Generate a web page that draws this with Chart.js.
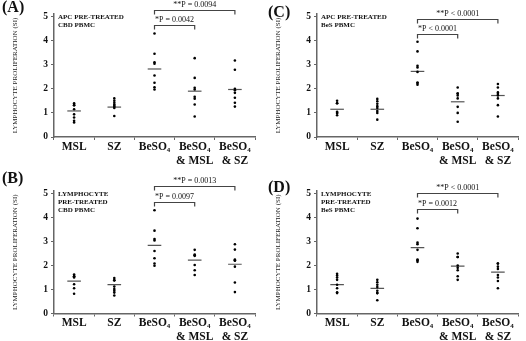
<!DOCTYPE html>
<html>
<head>
<meta charset="utf-8">
<script src="https://cdn.jsdelivr.net/npm/chart.js@4.4.0/dist/chart.umd.min.js"></script>
<style>
  html, body { margin: 0; padding: 0; background: #fff; }
  #wrap { position: relative; width: 526px; height: 341px; }
  canvas { position: absolute; }
</style>
</head>
<body>
<div id="wrap">
  <canvas id="panelA" width="263" height="170" style="left:0;top:0"></canvas>
  <canvas id="panelC" width="263" height="170" style="left:263px;top:0"></canvas>
  <canvas id="panelB" width="263" height="171" style="left:0;top:170px"></canvas>
  <canvas id="panelD" width="263" height="171" style="left:263px;top:170px"></canvas>
</div>
<script>
/* ═══════════════════════════════════════════════
   DATA (stimulation index per donor)
═══════════════════════════════════════════════ */
const categories = ['MSL', 'SZ', 'BeSO₄', 'BeSO₄ & MSL', 'BeSO₄ & SZ'];
const yTicks = [0, 1, 2, 3, 4, 5];
const yTitle = 'LYMPHOCYTE PROLIFERATION (SI)';

// (A) APC pre-treated, CBD PBMC
const siA = [
  [1.4, 1.32, 1.32, 1.15, 0.94, 0.81, 0.67, 0.6],
  [1.6, 1.5, 1.42, 1.35, 1.3, 1.25, 1.2, 0.87],
  [4.29, 3.45, 3.1, 3.04, 2.55, 2.25, 2.06, 1.97],
  [3.27, 2.45, 2.04, 1.97, 1.67, 1.59, 1.35, 0.85],
  [3.17, 2.79, 2.0, 1.94, 1.83, 1.63, 1.42, 1.26]
];
const medA = [1.08, 1.24, 2.82, 1.9, 1.97];
const noteA = ['APC PRE-TREATED', 'CBD PBMC'];
const pTextA = ['*P = 0.0042', '**P = 0.0094'];
const pLevelA = [4.66, 5.27];

// (C) APC pre-treated, BeS PBMC
const siC = [
  [1.5, 1.4, 1.4, 1.05, 1.0, 1.0, 0.9],
  [1.58, 1.48, 1.38, 1.28, 1.2, 1.08, 1.0, 0.72],
  [3.95, 3.55, 2.95, 2.88, 2.7, 2.25, 2.25, 2.17],
  [2.05, 1.8, 1.8, 1.72, 1.6, 1.25, 1.0, 0.63],
  [2.2, 2.05, 1.85, 1.78, 1.72, 1.6, 1.32, 0.85]
];
const medC = [1.15, 1.15, 2.72, 1.46, 1.72];
const noteC = ['APC PRE-TREATED', 'BeS PBMC'];
const pTextC = ['*P < 0.0001', '**P < 0.0001'];
const pLevelC = [4.29, 4.9];

// (B) lymphocyte pre-treated, CBD PBMC
const siB = [
  [1.62, 1.55, 1.55, 1.5, 1.22, 1.05, 0.82],
  [1.48, 1.38, 1.38, 1.12, 1.02, 0.95, 0.87, 0.75],
  [4.3, 3.45, 3.1, 3.04, 2.6, 2.3, 2.08, 1.99],
  [2.65, 2.45, 2.42, 2.4, 2.02, 1.8, 1.6],
  [2.88, 2.66, 2.25, 2.22, 2.2, 1.95, 1.29, 0.89]
];
const medB = [1.35, 1.2, 2.84, 2.22, 2.05];
const noteB = ['LYMPHOCYTE', 'PRE-TREATED', 'CBD PBMC'];
const pTextB = ['*P = 0.0097', '**P = 0.0013'];
const pLevelB = [4.66, 5.31];

// (D) lymphocyte pre-treated, BeS PBMC
const siD = [
  [1.65, 1.58, 1.5, 1.4, 1.2, 1.05, 0.88, 0.85],
  [1.4, 1.3, 1.2, 1.1, 0.95, 0.85, 0.85, 0.55],
  [3.95, 3.55, 2.95, 2.88, 2.65, 2.25, 2.22, 2.15],
  [2.5, 2.35, 2.35, 2.0, 1.9, 1.8, 1.55, 1.4],
  [2.08, 2.08, 1.95, 1.85, 1.6, 1.5, 1.35, 1.05]
];
const medD = [1.2, 1.05, 2.74, 1.97, 1.72];
const noteD = ['LYMPHOCYTE', 'PRE-TREATED', 'BeS PBMC'];
const pTextD = ['*P = 0.0012', '**P < 0.0001'];
const pLevelD = [4.36, 5.02];

/* ═══════════════════════════════════════════════
   DRAWING
═══════════════════════════════════════════════ */
const SERIF = "'Liberation Serif', 'DejaVu Serif', serif";
Chart.defaults.font.family = SERIF;
Chart.defaults.color = '#111';

// panel letter, inset note and the P-value brackets
const decor = {
  id: 'decor',
  afterDraw(chart, args, o) {
    const { ctx, scales: { x, y } } = chart;
    ctx.save();
    ctx.fillStyle = '#111';
    ctx.textBaseline = 'middle';
    ctx.textAlign = 'left';
    ctx.font = 'bold 16px ' + SERIF;
    ctx.fillText(o.letter, o.letterX, o.letterY);

    ctx.font = 'bold 7px ' + SERIF;
    o.note.forEach((t, i) => ctx.fillText(t, x.left + 4, y.top + 3 + i * 8));

    ctx.strokeStyle = '#444';
    ctx.lineWidth = 1.2;
    ctx.font = '8px ' + SERIF;
    ctx.textAlign = 'center';
    const from = categories.indexOf('BeSO₄');
    [3, 4].forEach((to, i) => {
      const x0 = x.getPixelForValue(from);
      const x1 = x.getPixelForValue(to);
      const yy = Math.round(y.getPixelForValue(o.pLevel[i])) + 0.5;
      ctx.beginPath();
      ctx.moveTo(x0, yy + 4);
      ctx.lineTo(x0, yy);
      ctx.lineTo(x1, yy);
      ctx.lineTo(x1, yy + 4);
      ctx.stroke();
      ctx.fillText(o.pText[i], (x0 + x1) / 2, yy - 6);
    });
    ctx.restore();
  }
};

function makePanel(id, si, med, note, pText, pLevel, letter, lx, ly, bottomRow) {
  const pts = [];
  si.forEach((col, i) => col.forEach(v => pts.push({ x: categories[i], y: v })));

  new Chart(document.getElementById(id), {
    type: 'line',
    data: {
      labels: categories,
      datasets: [
        {
          data: pts,
          showLine: false,
          pointRadius: 1.3,
          pointBackgroundColor: '#000',
          pointBorderWidth: 0
        },
        {
          data: med.map((v, i) => ({ x: categories[i], y: v })),
          showLine: false,
          pointStyle: 'line',
          pointRadius: 6.8,
          pointBorderColor: '#555',
          pointBorderWidth: 1.2
        }
      ]
    },
    options: {
      responsive: false,
      animation: false,
      events: [],
      devicePixelRatio: 1,
      layout: { padding: { top: bottomRow ? 21 : 14, right: 8, left: 0, bottom: 0 } },
      plugins: {
        legend: { display: false },
        tooltip: { enabled: false },
        decor: { letter, letterX: lx, letterY: ly, note, pText, pLevel }
      },
      scales: {
        x: {
          offset: true,
          grid: { offset: true, drawOnChartArea: false, tickLength: 3, color: '#666', lineWidth: 1 },
          border: { color: '#666', width: 1.5 },
          ticks: {
            autoSkip: false,
            maxRotation: 0,
            padding: 0,
            color: '#111',
            font: { size: 11.5, weight: 'bold', lineHeight: 1.2 },
            callback: (v, i) => categories[i].split(' & ').map((s, k) => k ? '& ' + s : s)
          },
          afterFit: s => { s.height = bottomRow ? 27.5 : 33; }
        },
        y: {
          min: 0,
          max: 5.1,
          grid: { drawOnChartArea: false, tickLength: 3, color: '#666', lineWidth: 1 },
          border: { color: '#666', width: 1.5 },
          ticks: { padding: 3, color: '#111', font: { size: 9.5, weight: 'bold' } },
          afterBuildTicks: s => { s.ticks = yTicks.map(v => ({ value: v })); },
          title: {
            display: true,
            text: yTitle,
            color: '#222',
            font: { size: 7, weight: 'normal' },
            padding: { top: 10.5, bottom: 0 }
          },
          afterFit: s => { s.width = 54; }
        }
      }
    },
    plugins: [decor]
  });
}

makePanel('panelA', siA, medA, noteA, pTextA, pLevelA, '(A)', 2, 8, false);
makePanel('panelC', siC, medC, noteC, pTextC, pLevelC, '(C)', 5, 12.5, false);
makePanel('panelB', siB, medB, noteB, pTextB, pLevelB, '(B)', 2, 9, true);
makePanel('panelD', siD, medD, noteD, pTextD, pLevelD, '(D)', 5, 17.5, true);
</script>
</body>
</html>
